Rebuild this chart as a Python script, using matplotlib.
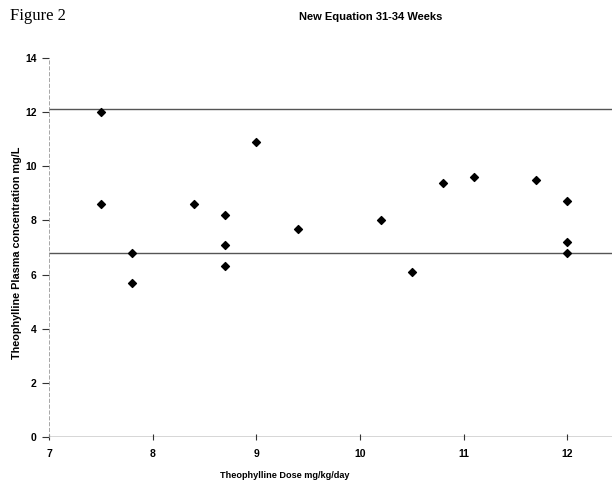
import matplotlib
matplotlib.use('Agg')
import matplotlib.pyplot as plt

plt.rcParams['font.family'] = ['Liberation Sans', 'DejaVu Sans']

# 剂量 vs 血药浓度
dose = [7.5, 7.5, 7.8, 7.8, 8.4, 8.7, 8.7, 8.7, 9.0, 9.4,
        10.2, 10.5, 10.8, 11.1, 11.7, 12.0, 12.0, 12.0]
conc = [12.0, 8.6, 6.8, 5.7, 8.6, 8.2, 7.1, 6.3, 10.9, 7.7,
        8.0, 6.1, 9.4, 9.6, 9.5, 8.7, 7.2, 6.8]
ref_levels = [12.1, 6.8]
x_ticks = [7, 8, 9, 10, 11, 12]
y_ticks = [0, 2, 4, 6, 8, 10, 12, 14]

fig = plt.figure(figsize=(6.12, 4.82), dpi=100)
ax = fig.add_axes([0.080, 0.0934, 0.920, 0.7863])

for lvl in ref_levels:
    ax.axhline(lvl, color='#555555', lw=1.0, zorder=1)
ax.axhline(0, color='#333333', lw=1.0, zorder=1)

ax.scatter(dose, conc, marker='D', s=16, color='black', zorder=3)

ax.set_xlim(7, 12.43)
ax.set_ylim(0, 14)
ax.set_xticks(x_ticks)
ax.set_yticks(y_ticks)

for side in ['top', 'right', 'bottom']:
    ax.spines[side].set_visible(False)
ax.spines['left'].set_color('#999999')
ax.spines['left'].set_linewidth(0.6)
ax.spines['left'].set_linestyle((0, (4, 3)))

ax.tick_params(axis='y', direction='out', length=5, width=0.8, color='#333333',
               labelsize=7.5, pad=4)
ax.tick_params(axis='x', direction='inout', length=5, width=0.8, color='#333333',
               labelsize=7.5, pad=6)
for lab in ax.get_xticklabels() + ax.get_yticklabels():
    lab.set_fontweight('bold')

ax.set_xlabel('Theophylline Dose mg/kg/day', fontsize=6.6, fontweight='bold')
ax.xaxis.set_label_coords(0.419, -0.09)
ax.set_ylabel('Theophylline Plasma concentration mg/L', fontsize=7.8, fontweight='bold')
ax.yaxis.set_label_coords(-0.047, 0.485)

fig.text(0.605, 0.965, 'New Equation 31-34 Weeks', ha='center', va='center',
         fontsize=8, fontweight='bold')
fig.text(0.016, 0.966, 'Figure 2', ha='left', va='center', fontsize=12,
         family=['Liberation Serif', 'DejaVu Serif'])

fig.savefig('out.png', dpi=100)
